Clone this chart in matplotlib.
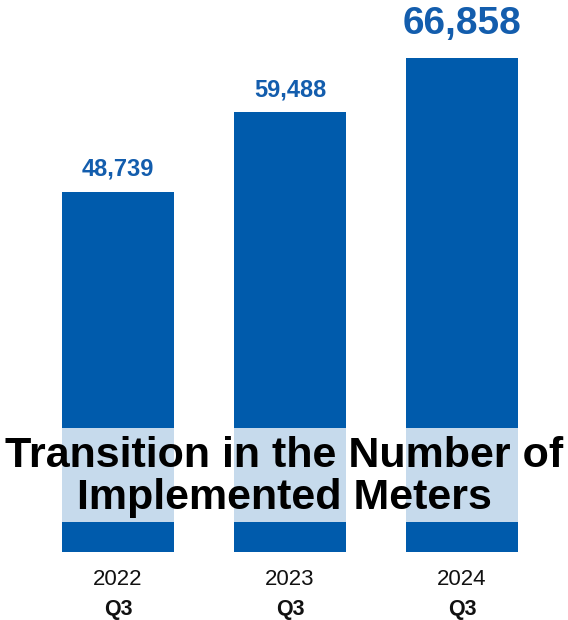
import matplotlib
matplotlib.use("Agg")
import matplotlib.pyplot as plt
from matplotlib.patches import Rectangle

years = ["2022", "2023", "2024"]
quarters = ["Q3", "Q3", "Q3"]
values = [48739, 59488, 66858]
title = "Transition in the Number of\nImplemented Meters"

bar_color = "#005BAC"
label_color = "#135DAD"

fig = plt.figure(figsize=(5.68, 6.2), dpi=100)
ax = fig.add_axes([0, 68/620, 1, 552/620])
x = list(range(len(values)))
ax.bar(x, values, width=112/172, color=bar_color, zorder=1)
ax.set_xlim(-118/172, (568-118)/172)
ax.set_ylim(0, 552*135.25)
ax.axis("off")

for i, v in enumerate(values):
    big = i == len(values) - 1
    ax.annotate(f"{v:,}", (i, v), xytext=(0, 8 if not big else 11), textcoords="offset points",
                ha="center", va="bottom", fontsize=28 if big else 17, fontweight="bold",
                color=label_color, family="Liberation Sans")
    ax.annotate(years[i], (i, 0), xytext=(0, -12), textcoords="offset points",
                ha="center", va="top", fontsize=16, color="#111111", family="Liberation Sans")
    ax.annotate(quarters[i], (i, 0), xytext=(0, -34), textcoords="offset points",
                ha="center", va="top", fontsize=15.5, fontweight="bold", color="#111111",
                family="Liberation Sans")

# translucent band
fig.patches.append(Rectangle((0, (620-522)/620), 1, 94/620, transform=fig.transFigure,
                             facecolor="white", alpha=0.78, edgecolor="none", zorder=5))
fig.text(0.5, (620-477)/620, title, ha="center", va="center", fontsize=31, fontweight="bold",
         color="black", family="Liberation Sans", linespacing=1.05, zorder=6)

fig.savefig("out.png", dpi=100)
